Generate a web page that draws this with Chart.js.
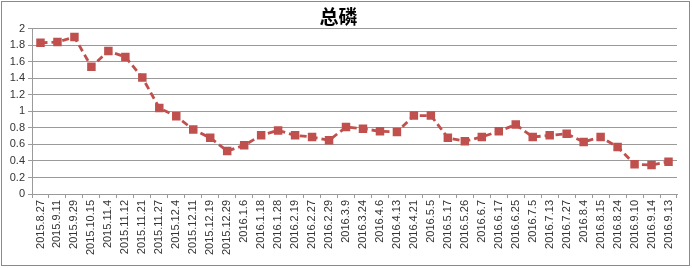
<!DOCTYPE html>
<html>
<head>
<meta charset="utf-8">
<script src="https://cdn.jsdelivr.net/npm/chart.js@4/dist/chart.umd.min.js"></script>
<style>
  html, body { margin: 0; padding: 0; background: #fff; }
  #wrap { width: 692px; height: 268px; position: relative; }
</style>
</head>
<body>
<div id="wrap"><canvas id="tpChart" width="692" height="268"></canvas></div>
<script>
// sampling dates (x categories)
const dates = [
    '2015.8.27', '2015.9.11', '2015.9.29', '2015.10.15', '2015.11.4', '2015.11.12',
    '2015.11.21', '2015.11.27', '2015.12.4', '2015.12.11', '2015.12.19', '2015.12.29',
    '2016.1.6', '2016.1.18', '2016.1.28', '2016.2.19', '2016.2.27', '2016.2.29',
    '2016.3.9', '2016.3.24', '2016.4.6', '2016.4.13', '2016.4.21', '2016.5.5',
    '2016.5.17', '2016.5.26', '2016.6.7', '2016.6.17', '2016.6.25', '2016.7.5',
    '2016.7.13', '2016.7.27', '2016.8.4', '2016.8.15', '2016.8.24', '2016.9.10',
    '2016.9.14', '2016.9.13'
];

// total phosphorus values
const totalP = [
    1.83, 1.84, 1.90, 1.54, 1.73, 1.66,
    1.41, 1.04, 0.94, 0.78, 0.68, 0.52,
    0.59, 0.71, 0.77, 0.71, 0.69, 0.65,
    0.81, 0.79, 0.76, 0.75, 0.95, 0.95,
    0.68, 0.64, 0.69, 0.76, 0.84, 0.69,
    0.71, 0.73, 0.63, 0.69, 0.57, 0.36,
    0.35, 0.39
];

const yMin = 0;
const yMax = 2;
const yStep = 0.2;

const red = '#c0504d';
const gridGray = '#9a9a9a';

// outer frame like the excel chart border
const framePlugin = {
    id: 'frame',
    beforeDraw(chart) {
        const ctx = chart.ctx;
        ctx.save();
        ctx.fillStyle = '#fff';
        ctx.fillRect(0, 0, chart.width, chart.height);
        ctx.restore();
    },
    afterDraw(chart) {
        const ctx = chart.ctx;
        ctx.save();
        ctx.strokeStyle = '#8a8a8a';
        ctx.lineWidth = 1;
        ctx.strokeRect(1.5, 1.5, 688, 264);
        ctx.restore();
    }
};

const ctx = document.getElementById('tpChart').getContext('2d');
new Chart(ctx, {
    type: 'line',
    data: {
        labels: dates,
        datasets: [{
            label: '总磷',
            data: totalP,
            borderColor: red,
            backgroundColor: red,
            borderWidth: 2.8,
            borderDash: [7, 4],
            pointStyle: 'rect',
            pointRadius: 6,
            pointHoverRadius: 6,
            pointBorderWidth: 0,
            tension: 0
        }]
    },
    options: {
        responsive: false,
        animation: false,
        devicePixelRatio: 1,
        layout: { padding: { left: 0, right: 15, top: 0, bottom: 0 } },
        plugins: {
            legend: { display: false },
            tooltip: { enabled: false },
            title: {
                display: true,
                text: '总磷',
                color: '#000',
                font: { family: '"Noto Sans CJK SC", sans-serif', size: 19, weight: 'bold' },
                padding: { top: 5, bottom: 1 }
            }
        },
        scales: {
            x: {
                offset: true,
                grid: {
                    offset: true,
                    drawOnChartArea: false,
                    drawTicks: true,
                    tickLength: 4,
                    color: gridGray
                },
                border: { display: true, color: gridGray },
                ticks: {
                    autoSkip: false,
                    minRotation: 90,
                    maxRotation: 90,
                    padding: 2,
                    color: '#333',
                    font: { family: '"Liberation Sans", Arial, sans-serif', size: 11 }
                },
                afterFit(scale) { scale.height = 74; }
            },
            y: {
                min: yMin,
                max: yMax,
                ticks: {
                    stepSize: yStep,
                    padding: 3,
                    color: '#333',
                    font: { family: '"Liberation Sans", Arial, sans-serif', size: 11 },
                    callback: v => String(+v.toFixed(1))
                },
                grid: {
                    color: gridGray,
                    tickLength: 4
                },
                border: { display: true, color: gridGray },
                afterFit(scale) { scale.width = 32; }
            }
        }
    },
    plugins: [framePlugin]
});
</script>
</body>
</html>
